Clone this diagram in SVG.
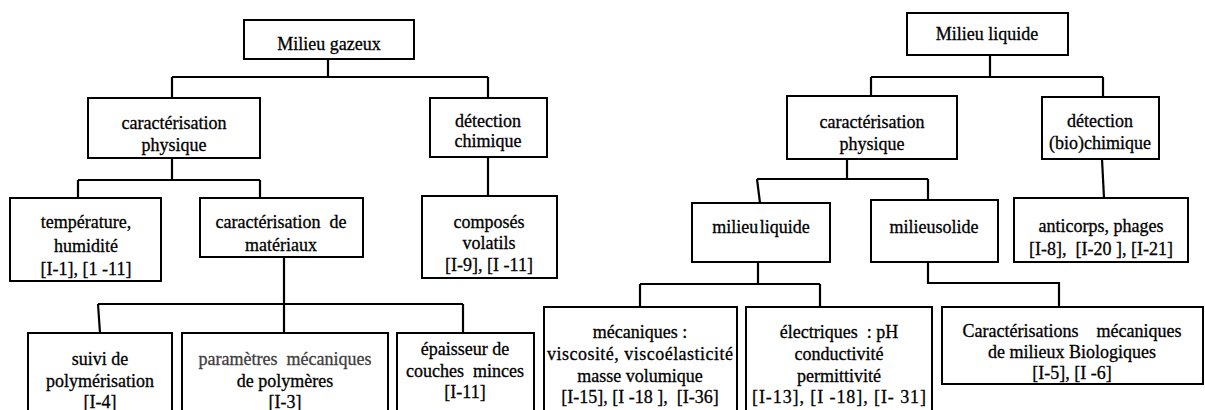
<svg xmlns="http://www.w3.org/2000/svg" width="1205" height="410" viewBox="0 0 1205 410">
<style>
.box{fill:#fff;stroke:#000;stroke-width:2}
.t{font-family:'Liberation Serif','DejaVu Serif',serif;font-size:18px;fill:#000;stroke:#000;stroke-width:0.3;text-anchor:middle}
.g{fill:#404040;stroke:#404040}
.c{fill:none;stroke:#000;stroke-width:2.2}
</style>
<rect width="1205" height="410" fill="#fff"/>
<g id="connectors">
<path class="c" d="M328,59V77M172,77H488M172,77V98M488,77V98"/>
<path class="c" d="M172,158V180M78,180H260M78,180V198M260,180V198"/>
<path class="c" d="M488,157V196"/>
<path class="c" d="M284,257V304M98,304H463M98,304L100,333M284,304V333M463,304V333"/>
<path class="c" d="M990,55V77M871,77H1103M871,77V97M1103,77V97"/>
<path class="c" d="M847,159V179M757,179H928M757,179L760,203M928,179V200"/>
<path class="c" d="M1102,159L1104,198"/>
<path class="c" d="M758,262V284M640,284H820M640,284V307M820,284V307"/>
<path class="c" d="M928,262V283H1059V307"/>
</g>
<g id="n_gaz"><rect class="box" x="244" y="20" width="170" height="39"/><text class="t" x="329" y="50">Milieu gazeux</text></g>
<g id="n_cp1"><rect class="box" x="88" y="98" width="172" height="60"/><text class="t" x="174" y="129">caractérisation</text><text class="t" x="174" y="151">physique</text></g>
<g id="n_det1"><rect class="box" x="430" y="98" width="117" height="59"/><text class="t" x="488" y="127">détection</text><text class="t" x="488" y="147">chimique</text></g>
<g id="n_temp"><rect class="box" x="10" y="198" width="151" height="83"/><text class="t" x="86" y="228">température,</text><text class="t" x="86" y="252">humidité</text><text class="t" x="86" y="275">[I-1], [1 -11]</text></g>
<g id="n_mat"><rect class="box" x="200" y="198" width="163" height="59"/><text class="t" x="281" y="228" xml:space="preserve">caractérisation  de</text><text class="t" x="281" y="251">matériaux</text></g>
<g id="n_comp"><rect class="box" x="422" y="196" width="135" height="82"/><text class="t" x="489" y="228">composés</text><text class="t" x="489" y="249">volatils</text><text class="t" x="489" y="271">[I-9], [I -11]</text></g>
<g id="n_suivi"><rect class="box" x="28" y="333" width="144" height="90"/><text class="t" x="100" y="365">suivi de</text><text class="t" x="100" y="387">polymérisation</text><text class="t" x="100" y="408">[I-4]</text></g>
<g id="n_param"><rect class="box" x="182" y="333" width="206" height="90"/><text class="t g" x="285" y="365" xml:space="preserve">paramètres  mécaniques</text><text class="t" x="285" y="387">de polymères</text><text class="t" x="285" y="408">[I-3]</text></g>
<g id="n_epais"><rect class="box" x="397" y="333" width="137" height="90"/><text class="t" x="465" y="355">épaisseur de</text><text class="t" x="465" y="377" xml:space="preserve">couches  minces</text><text class="t" x="465" y="398">[I-11]</text></g>
<g id="n_liq"><rect class="box" x="907" y="13" width="161" height="42"/><text class="t" x="987" y="40">Milieu liquide</text></g>
<g id="n_cp2"><rect class="box" x="787" y="96" width="170" height="63"/><text class="t" x="872" y="128">caractérisation</text><text class="t" x="872" y="150">physique</text></g>
<g id="n_det2"><rect class="box" x="1042" y="97" width="117" height="62"/><text class="t" x="1100" y="127">détection</text><text class="t" x="1100" y="149">(bio)chimique</text></g>
<g id="n_anti"><rect class="box" x="1014" y="198" width="174" height="64"/><text class="t" x="1101" y="232">anticorps, phages</text><text class="t" x="1101" y="255" xml:space="preserve">[I-8],  [I-20 ], [I-21]</text></g>
<g id="n_ml"><rect class="box" x="692" y="203" width="138" height="59"/><text class="t" x="761" y="233" word-spacing="-3">milieu liquide</text></g>
<g id="n_ms"><rect class="box" x="871" y="200" width="127" height="62"/><text class="t" x="934" y="233">milieusolide</text></g>
<g id="n_mec"><rect class="box" x="544" y="307" width="193" height="110"/><text class="t" x="640" y="338">mécaniques :</text><text class="t" x="640" y="360" textLength="186">viscosité, viscoélasticité</text><text class="t" x="640" y="382">masse volumique</text><text class="t" x="640" y="403" xml:space="preserve">[I-15], [I -18 ],  [I-36]</text></g>
<g id="n_elec"><rect class="box" x="746" y="307" width="186" height="110"/><text class="t" x="839" y="338" xml:space="preserve">électriques  : pH</text><text class="t" x="839" y="360">conductivité</text><text class="t" x="839" y="382">permittivité</text><text class="t" x="839" y="403" textLength="174">[I-13], [I -18], [I- 31]</text></g>
<g id="n_carac"><rect class="box" x="942" y="307" width="261" height="77"/><text class="t" x="1072" y="337" xml:space="preserve">Caractérisations    mécaniques</text><text class="t" x="1072" y="358">de milieux Biologiques</text><text class="t" x="1072" y="379">[I-5], [I -6]</text></g>
</svg>
